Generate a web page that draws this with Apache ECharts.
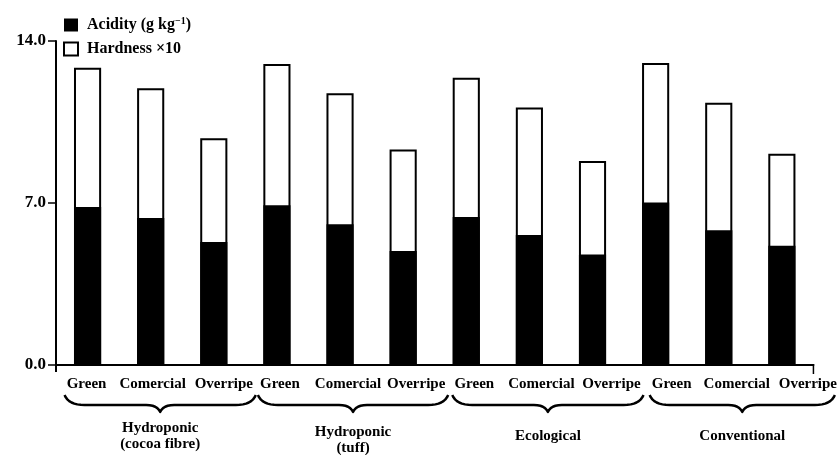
<!DOCTYPE html>
<html><head><meta charset="utf-8">
<script src="https://cdn.jsdelivr.net/npm/echarts@6/dist/echarts.min.js"></script>
<style>html,body{margin:0;padding:0;background:#fff}#c{width:840px;height:455px}</style>
</head><body><div id="c"></div>
<script>
// ---- data ----
const groups = ['Hydroponic\n(cocoa fibre)', 'Hydroponic\n(tuff)', 'Ecological', 'Conventional'];
const stages = ['Green', 'Comercial', 'Overripe'];
const acidity    = [6.83, 6.35, 5.32, 6.90, 6.08, 4.93, 6.40, 5.62, 4.77, 7.02, 5.82, 5.15];
const hardness10 = [12.84, 11.96, 9.80, 13.01, 11.74, 9.31, 12.41, 11.13, 8.81, 13.05, 11.33, 9.13];
const seriesNames = ['Acidity', 'Hardness'];
const yMin = 0, yMax = 14, yStep = 7;

// ---- layout / style ----
const FONT = "'Liberation Serif', 'Times New Roman', serif";
const labelShift = [-1, 2, 10, 3, 8, 13, 8, 12, 19, 16, 18, 26];
const braceRightPad = [32, 32, 32, 27];
const groupLabelY = [436, 440, 436, 436];
const categories = groups.flatMap((g, gi) => stages.map(s => gi + ':' + s));

const rich = {};
labelShift.forEach((s, i) => {
  rich['s' + i] = {
    fontFamily: FONT, fontSize: 15, fontWeight: 'bold', color: '#000',
    padding: s >= 0 ? [0, 0, 0, 2 * s] : [0, -2 * s, 0, 0]
  };
});

const chart = echarts.init(document.getElementById('c'), null, {renderer: 'canvas'});
chart.setOption({
  animation: false,
  backgroundColor: '#fff',
  grid: {left: 56, right: 26, top: 41, bottom: 90, containLabel: false},
  legend: {
    orient: 'vertical', left: 58, top: 11, itemGap: 8,
    itemWidth: 14, itemHeight: 13, icon: 'rect',
    data: [seriesNames[0], seriesNames[1]],
    selectedMode: false,
    formatter: function (name) {
      if (name === seriesNames[0]) return '{a|Acidity (g kg}{s|\u22121}{a|)}';
      return '{a|Hardness \u00d710}';
    },
    textStyle: {
      padding: [0, 0, 0, 4],
      rich: {
        a: {fontFamily: FONT, fontSize: 16, fontWeight: 'bold', color: '#000', lineHeight: 18},
        s: {fontFamily: FONT, fontSize: 10, fontWeight: 'bold', color: '#000', verticalAlign: 'top', lineHeight: 10}
      }
    }
  },
  xAxis: {
    type: 'category',
    data: categories,
    axisLine: {show: true, lineStyle: {color: '#000', width: 2}},
    axisTick: {show: false},
    axisLabel: {
      interval: 0, margin: 12,
      formatter: function (v, i) { return '{s' + i + '|' + stages[i % 3] + '}'; },
      rich: rich
    },
    splitLine: {show: false}
  },
  yAxis: {
    type: 'value', min: yMin, max: yMax, interval: yStep,
    axisLine: {show: true, lineStyle: {color: '#000', width: 2}},
    axisTick: {show: true, length: 8, lineStyle: {color: '#000', width: 1.5}},
    axisLabel: {
      formatter: v => v.toFixed(1), margin: 10,
      fontFamily: FONT, fontSize: 17, fontWeight: 'bold', color: '#000'
    },
    splitLine: {show: false}
  },
  series: [
    {
      name: seriesNames[1], type: 'bar', data: hardness10, barWidth: '43%',
      itemStyle: {color: '#fff', borderColor: '#000', borderWidth: 2},
      emphasis: {disabled: true}, z: 2
    },
    {
      name: seriesNames[0], type: 'bar', data: acidity, barWidth: '43%', barGap: '-100%',
      itemStyle: {color: '#000', borderWidth: 0},
      emphasis: {disabled: true}, z: 3
    }
  ]
});

// ---- decorations: braces, group labels, axis extensions ----
function px(i) { return chart.convertToPixel({xAxisIndex: 0}, i); }
function quad(p0, p1, p2, n, out) {
  for (let k = 1; k <= n; k++) {
    const t = k / n, u = 1 - t;
    out.push([u * u * p0[0] + 2 * u * t * p1[0] + t * t * p2[0],
              u * u * p0[1] + 2 * u * t * p1[1] + t * t * p2[1]]);
  }
}
const y0 = chart.convertToPixel({yAxisIndex: 0}, 0);
const step = px(1) - px(0);
const xLeft = px(0) - step / 2;
const xRight = px(categories.length - 1) + step / 2;
const els = [];
els.push({type: 'line', shape: {x1: xLeft, y1: y0, x2: xLeft, y2: y0 + 7}, style: {stroke: '#000', lineWidth: 2}, silent: true});
els.push({type: 'line', shape: {x1: xRight, y1: y0 - 1, x2: xRight, y2: y0 + 9}, style: {stroke: '#000', lineWidth: 1.5}, silent: true});
groups.forEach((g, gi) => {
  const a = px(gi * 3) + labelShift[gi * 3] - 22;
  const b = px(gi * 3 + 2) + labelShift[gi * 3 + 2] + braceRightPad[gi];
  const c = (a + b) / 2;
  const t = y0 + 30, m = y0 + 40, p = y0 + 47;
  const pts = [[a, t]];
  quad([a, t], [a + 4, m], [a + 20, m], 8, pts);
  pts.push([c - 14, m]);
  quad([c - 14, m], [c - 3, m], [c, p], 6, pts);
  quad([c, p], [c + 3, m], [c + 14, m], 6, pts);
  pts.push([b - 20, m]);
  quad([b - 20, m], [b - 4, m], [b, t], 8, pts);
  els.push({type: 'polyline', shape: {points: pts}, style: {stroke: '#000', fill: null, lineWidth: 2.5, lineJoin: 'round'}, silent: true});
  els.push({
    type: 'text', x: c, y: groupLabelY[gi], silent: true,
    style: {text: g, align: 'center', verticalAlign: 'middle', fontFamily: FONT, fontSize: 15, fontWeight: 'bold', lineHeight: 16, fill: '#000'}
  });
});
chart.setOption({graphic: {elements: els}});
</script>
</body></html>
